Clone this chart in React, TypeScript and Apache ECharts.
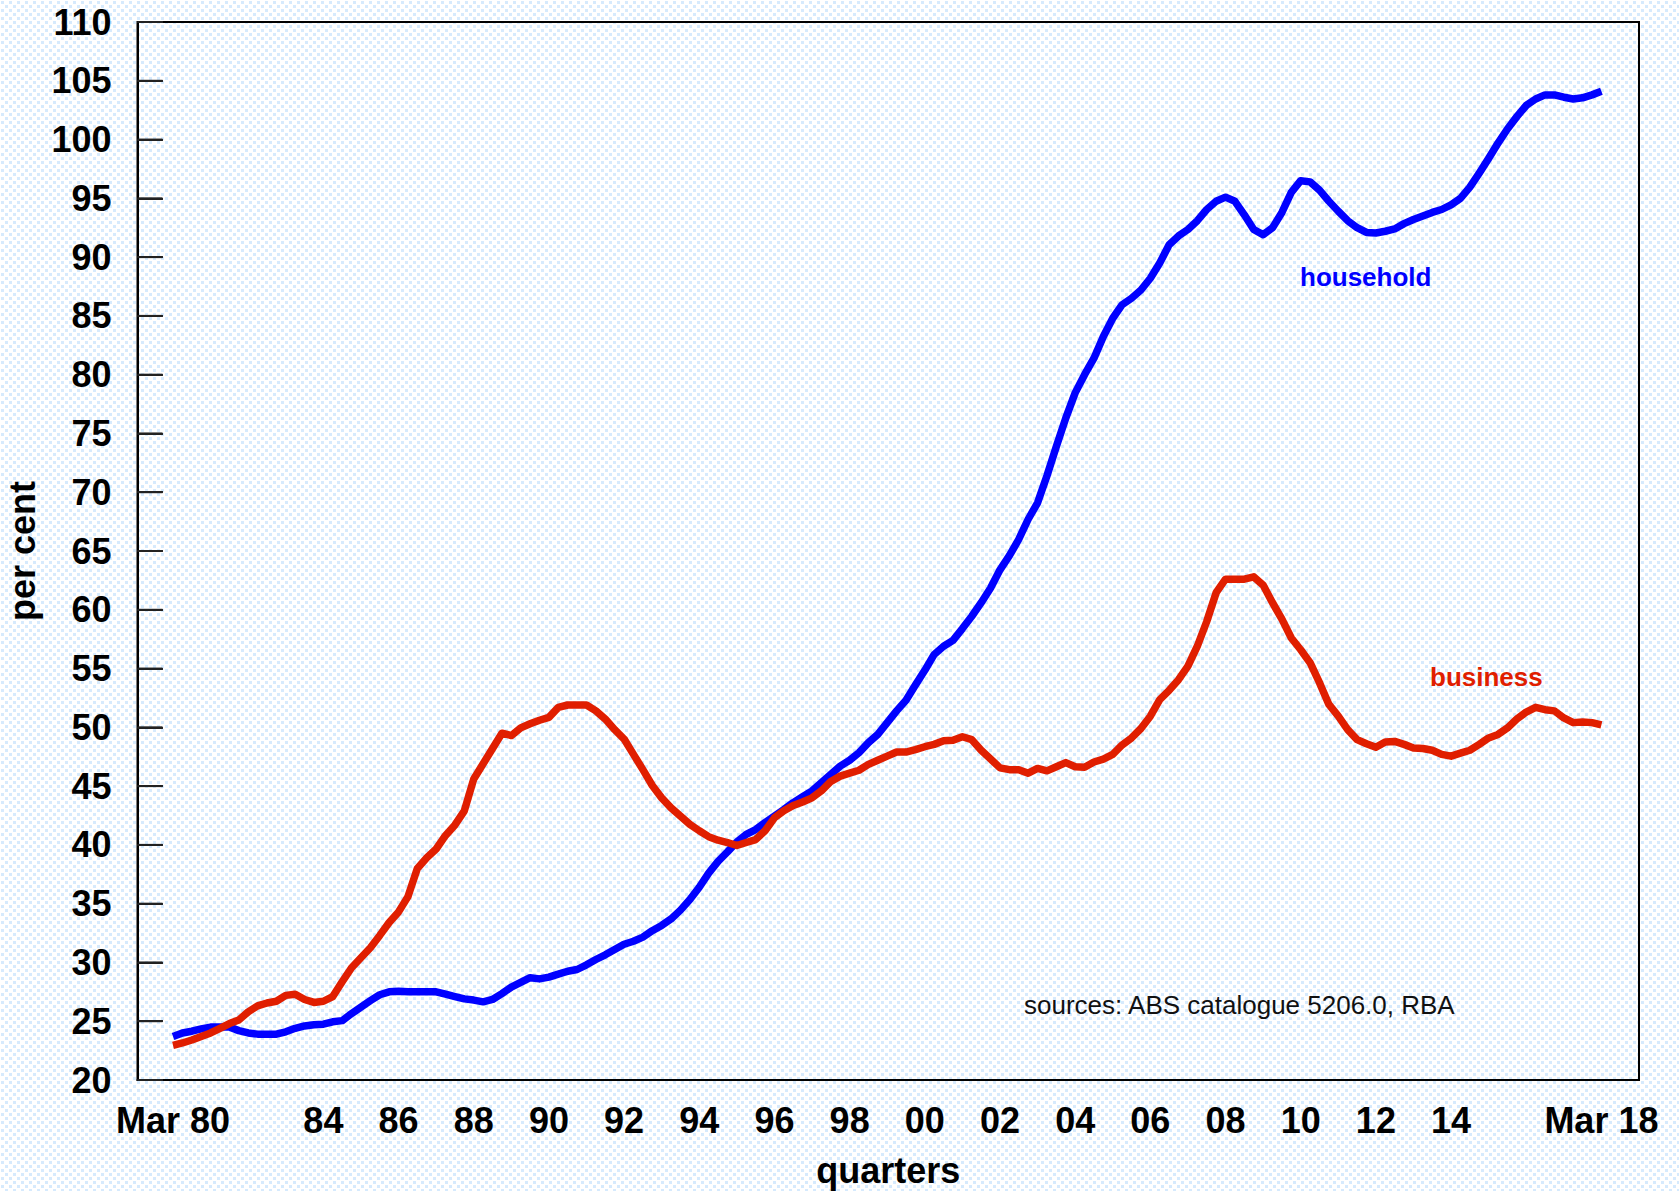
import React, { useEffect, useRef } from "react";
import * as echarts from "echarts";

// Quarter categories, Mar 1980 .. Mar 2018
const quarters: string[] = [];
for (let y = 1980; y <= 2018; y++) {
  for (const m of ["Mar", "Jun", "Sep", "Dec"]) {
    if (y === 2018 && m !== "Mar") break;
    quarters.push(`${m} ${String(y % 100).padStart(2, "0")}`);
  }
}

const xTickLabels: Record<string, string> = {
  "Mar 80": "Mar 80",
  "Mar 84": "84",
  "Mar 86": "86",
  "Mar 88": "88",
  "Mar 90": "90",
  "Mar 92": "92",
  "Mar 94": "94",
  "Mar 96": "96",
  "Mar 98": "98",
  "Mar 00": "00",
  "Mar 02": "02",
  "Mar 04": "04",
  "Mar 06": "06",
  "Mar 08": "08",
  "Mar 10": "10",
  "Mar 12": "12",
  "Mar 14": "14",
  "Mar 18": "Mar 18",
};

// y-axis tick values, per cent
const yTicks: number[] = [20, 25, 30, 35, 40, 45, 50, 55, 60, 65, 70, 75, 80, 85, 90, 95, 100, 105, 110];

// household debt, per cent
const household: number[] = [
  23.7, 24.0, 24.15, 24.35, 24.5, 24.5, 24.5, 24.2, 24.0, 23.9,
  23.9, 23.9, 24.1, 24.4, 24.6, 24.7, 24.75, 24.95, 25.05, 25.65,
  26.2, 26.75, 27.25, 27.5, 27.55, 27.5, 27.5, 27.5, 27.5, 27.3,
  27.1, 26.9, 26.8, 26.65, 26.85, 27.35, 27.9, 28.3, 28.7, 28.6,
  28.75, 29.0, 29.25, 29.4, 29.8, 30.25, 30.65, 31.1, 31.55, 31.8,
  32.15, 32.7, 33.15, 33.7, 34.45, 35.35, 36.4, 37.6, 38.6, 39.4,
  40.25, 40.9, 41.3, 41.9, 42.45, 43.0, 43.6, 44.1, 44.6, 45.3,
  46.0, 46.7, 47.2, 47.85, 48.7, 49.4, 50.4, 51.4, 52.3, 53.6,
  54.85, 56.2, 56.9, 57.4, 58.4, 59.45, 60.6, 61.85, 63.4, 64.6,
  66.0, 67.7, 69.1, 71.4, 73.9, 76.3, 78.45, 80.0, 81.4, 83.25,
  84.8, 85.95, 86.5, 87.2, 88.2, 89.5, 91.05, 91.8, 92.35, 93.1,
  94.05, 94.75, 95.1, 94.75, 93.6, 92.35, 91.9, 92.5, 93.8, 95.5,
  96.5, 96.4, 95.7, 94.75, 93.9, 93.1, 92.5, 92.1, 92.05, 92.2,
  92.4, 92.85, 93.2, 93.5, 93.8, 94.05, 94.45, 95.0, 95.95, 97.15,
  98.4, 99.7, 100.9, 101.95, 102.9, 103.45, 103.8, 103.8, 103.6, 103.45,
  103.55, 103.8, 104.1,
];

// business debt, per cent
const business: number[] = [
  22.95, 23.15, 23.4, 23.7, 24.0, 24.4, 24.8, 25.1, 25.8, 26.3,
  26.55, 26.7, 27.2, 27.3, 26.85, 26.6, 26.7, 27.1, 28.35, 29.55,
  30.4, 31.25, 32.3, 33.4, 34.3, 35.6, 38.0, 38.9, 39.65, 40.8,
  41.7, 42.9, 45.6, 46.9, 48.2, 49.5, 49.3, 49.95, 50.3, 50.6,
  50.85, 51.7, 51.9, 51.9, 51.9, 51.4, 50.7, 49.8, 49.0, 47.7,
  46.4, 45.05, 44.0, 43.15, 42.45, 41.75, 41.2, 40.7, 40.4, 40.2,
  39.95, 40.2, 40.45, 41.2, 42.3, 42.9, 43.35, 43.65, 44.0, 44.6,
  45.4, 45.85, 46.1, 46.35, 46.85, 47.2, 47.55, 47.9, 47.9, 48.1,
  48.35, 48.55, 48.85, 48.9, 49.2, 48.95, 48.05, 47.3, 46.55, 46.4,
  46.4, 46.1, 46.5, 46.3, 46.65, 47.0, 46.65, 46.6, 47.05, 47.3,
  47.7, 48.5, 49.1, 49.9, 50.95, 52.35, 53.15, 54.05, 55.2, 56.9,
  59.0, 61.45, 62.6, 62.6, 62.6, 62.8, 62.1, 60.6, 59.2, 57.6,
  56.6, 55.5, 53.8, 51.95, 50.95, 49.8, 48.95, 48.6, 48.3, 48.75,
  48.8, 48.55, 48.25, 48.2, 48.05, 47.7, 47.55, 47.8, 48.05, 48.55,
  49.1, 49.4, 49.95, 50.7, 51.3, 51.7, 51.5, 51.4, 50.8, 50.4,
  50.45, 50.4, 50.2,
];

const BLUE = "#0000ff";
const RED = "#e01e00";
const FONT = '"Liberation Sans", Arial, Helvetica, sans-serif';
const X_MIN = -3.78;
const X_MAX = 156;
const TICK_SPAN = 2.7; // tick length, in quarters of the x scale

const labelPositions = Object.keys(xTickLabels).map((q) => quarters.indexOf(q));

const bgSvg =
  "data:image/svg+xml;utf8," +
  encodeURIComponent(
    "<svg xmlns='http://www.w3.org/2000/svg' width='8' height='8'>" +
      "<rect x='1' y='1' width='3' height='3' fill='#d6eafd'/>" +
      "<rect x='5' y='5' width='3' height='3' fill='#d6eafd'/>" +
      "</svg>"
  );

export default function App() {
  const ref = useRef<HTMLDivElement>(null);

  useEffect(() => {
    if (!ref.current) return;
    const chart = echarts.init(ref.current, undefined, { renderer: "svg" });
    chart.setOption({
      animation: false,
      backgroundColor: "transparent",
      grid: {
        left: 137.5,
        top: 22,
        right: 40,
        bottom: 111,
        containLabel: false,
        outerBoundsMode: "none",
        show: true,
        borderColor: "#000",
        borderWidth: 2,
        backgroundColor: "transparent",
      },
      xAxis: {
        type: "value",
        min: X_MIN,
        max: X_MAX,
        name: "quarters",
        nameLocation: "middle",
        nameGap: 72,
        nameTextStyle: { fontFamily: FONT, fontSize: 36, fontWeight: "bold", color: "#000" },
        axisLine: { show: true, onZero: false, lineStyle: { color: "#000", width: 2 } },
        axisTick: { show: false },
        splitLine: { show: false },
        axisLabel: {
          fontFamily: FONT,
          fontSize: 36,
          fontWeight: "bold",
          color: "#000",
          margin: 22,
          customValues: labelPositions,
          formatter: (v: number) => xTickLabels[quarters[Math.round(v)]] ?? "",
        },
      },
      yAxis: {
        type: "value",
        min: 20,
        max: 110,
        interval: 5,
        name: "per cent",
        nameLocation: "middle",
        nameGap: 95,
        nameRotate: 90,
        nameTextStyle: { fontFamily: FONT, fontSize: 36, fontWeight: "bold", color: "#000" },
        axisLine: { show: true, onZero: false, lineStyle: { color: "#000", width: 2 } },
        axisTick: { show: true, inside: true, length: 25, lineStyle: { color: "#111", width: 2 } },
        splitLine: { show: false },
        axisLabel: {
          fontFamily: FONT,
          fontSize: 36,
          fontWeight: "bold",
          color: "#000",
          margin: 26,
        },
      },
      series: [
        {
          name: "household",
          type: "line",
          data: household.map((v, i) => [i, v]),
          showSymbol: false,
          symbol: "none",
          lineStyle: { color: BLUE, width: 7.5, join: "round" },
          z: 2,
        },
        {
          name: "business",
          type: "line",
          data: business.map((v, i) => [i, v]),
          showSymbol: false,
          symbol: "none",
          lineStyle: { color: RED, width: 7.5, join: "round" },
          z: 3,
          markLine: {
            silent: true,
            symbol: ["none", "none"],
            label: { show: false },
            lineStyle: { color: "#222", width: 2, type: "solid" },
            data: yTicks.map((v) => [{ coord: [X_MIN, v] }, { coord: [X_MIN + TICK_SPAN, v] }]),
          },
        },
        {
          // inward tick marks on the value axis, drawn as thin filled bars
          name: "yticks",
          type: "custom",
          silent: true,
          clip: false,
          z: 5,
          data: yTicks.map((v) => [X_MIN, v]),
          renderItem: (params: any, api: any) => {
            const p = api.coord([api.value(0), api.value(1)]);
            return {
              type: "rect",
              shape: { x: p[0], y: p[1] - 1, width: 25, height: 2 },
              style: { fill: "#222" },
            };
          },
        },
      ],
      graphic: [
        {
          type: "text",
          left: 1300,
          top: 264,
          style: { text: "household", fill: BLUE, font: `bold 26px ${FONT}` },
        },
        {
          type: "text",
          left: 1430,
          top: 664,
          style: { text: "business", fill: RED, font: `bold 26px ${FONT}` },
        },
        {
          type: "text",
          left: 1024,
          top: 992,
          style: { text: "sources: ABS catalogue 5206.0, RBA", fill: "#111", font: `26px ${FONT}` },
        },
      ],
    });

    return () => chart.dispose();
  }, []);

  return (
    <div
      style={{
        position: "absolute",
        left: 0,
        top: 0,
        width: 1679,
        height: 1191,
        backgroundColor: "#ffffff",
        backgroundImage: `url("${bgSvg}")`,
        backgroundRepeat: "repeat",
      }}
    >
      <div ref={ref} style={{ width: 1679, height: 1191 }} />
    </div>
  );
}
